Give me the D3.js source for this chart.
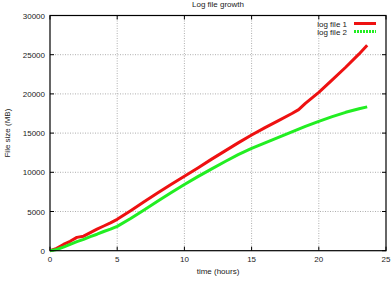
<!DOCTYPE html>
<meta charset="utf-8">
<style>
body { margin: 0; background: #fff; }
text { font-family: "Liberation Sans", Arial, sans-serif; font-size: 8px; fill: #222; }
.grid line { stroke: #999; stroke-dasharray: 1,1.5; stroke-width: 0.8; }
</style>
<svg width="391" height="290"></svg>
<script src="https://d3js.org/d3.v7.min.js"></script>
<script>
var hours = [0, 0.5, 1, 1.5, 2, 2.5, 3, 3.5, 4, 4.5, 5, 6, 7, 8, 9, 10, 11, 12, 13, 14, 15, 16, 17, 18, 18.5, 19, 20, 21, 22, 23, 23.6];
var logFile1 = [0, 300, 800, 1200, 1700, 1850, 2300, 2750, 3150, 3550, 4000, 5100, 6250, 7350, 8450, 9500, 10550, 11650, 12700, 13750, 14750, 15700, 16600, 17500, 18000, 18800, 20200, 21800, 23400, 25100, 26200];
var logFile2 = [0, 150, 450, 800, 1150, 1450, 1800, 2100, 2450, 2750, 3100, 4100, 5200, 6300, 7400, 8450, 9450, 10400, 11350, 12250, 13050, 13750, 14450, 15150, 15500, 15850, 16500, 17100, 17650, 18100, 18350];
var xTicks = [0, 5, 10, 15, 20, 25];
var yTicks = [0, 5000, 10000, 15000, 20000, 25000, 30000];
var seriesNames = ["log file 1", "log file 2"];
var seriesColors = ["#ee1111", "#22ee22"];

var svg = d3.select("svg"),
    mLeft = 50, mRight = 386, mTop = 15.5, mBottom = 250.7;

var x = d3.scaleLinear().domain([0, 25]).range([mLeft, mRight]);
var y = d3.scaleLinear().domain([0, 30000]).range([mBottom, mTop]);

var grid = svg.append("g").attr("class", "grid");
grid.selectAll("line.v").data(xTicks.slice(1, -1)).enter().append("line")
    .attr("x1", d => x(d)).attr("x2", d => x(d)).attr("y1", mTop).attr("y2", mBottom);
grid.selectAll("line.h").data(yTicks.slice(1, -1)).enter().append("line")
    .attr("y1", d => y(d)).attr("y2", d => y(d)).attr("x1", mLeft).attr("x2", mRight);

// ticks on all four sides, pointing inward
var tk = svg.append("g").attr("stroke", "#000").attr("stroke-width", 1);
xTicks.forEach(function(t) {
  tk.append("line").attr("x1", x(t)).attr("x2", x(t)).attr("y1", mBottom).attr("y2", mBottom - 4);
  tk.append("line").attr("x1", x(t)).attr("x2", x(t)).attr("y1", mTop).attr("y2", mTop + 4);
});
yTicks.forEach(function(t) {
  tk.append("line").attr("y1", y(t)).attr("y2", y(t)).attr("x1", mLeft).attr("x2", mLeft + 4);
  tk.append("line").attr("y1", y(t)).attr("y2", y(t)).attr("x1", mRight).attr("x2", mRight - 4);
});

svg.selectAll("text.xt").data(xTicks).enter().append("text")
    .attr("x", d => x(d)).attr("y", mBottom + 11).attr("text-anchor", "middle").text(d => d);
svg.selectAll("text.yt").data(yTicks).enter().append("text")
    .attr("x", mLeft - 5).attr("y", d => y(d) + 3).attr("text-anchor", "end").text(d => d);

var line = d3.line().x(d => x(d[0])).y(d => y(d[1]));
[logFile1, logFile2].forEach(function(vals, i) {
  svg.append("path")
      .datum(hours.map((h, j) => [h, vals[j]]))
      .attr("d", line)
      .attr("fill", "none")
      .attr("stroke", seriesColors[i])
      .attr("stroke-width", 3)
      .attr("stroke-linejoin", "round");
});

svg.append("rect").attr("x", mLeft).attr("y", mTop).attr("width", mRight - mLeft).attr("height", mBottom - mTop)
    .attr("fill", "none").attr("stroke", "#000").attr("stroke-width", 1.2);

// legend
seriesNames.forEach(function(name, i) {
  var ly = 23.5 + i * 8;
  svg.append("text").attr("x", 347).attr("y", ly + 3).attr("text-anchor", "end").text(name);
  svg.append("line").attr("x1", 354).attr("x2", 376).attr("y1", ly).attr("y2", ly)
      .attr("stroke", seriesColors[i]).attr("stroke-width", 3)
      .attr("stroke-dasharray", i ? "2,1" : null);
});

svg.append("text").attr("x", (mLeft + mRight) / 2).attr("y", 7).attr("text-anchor", "middle").text("Log file growth");
svg.append("text").attr("x", (mLeft + mRight) / 2).attr("y", 273.5).attr("text-anchor", "middle").text("time (hours)");
svg.append("text").attr("transform", "translate(10," + (mTop + mBottom) / 2 + ") rotate(-90)")
    .attr("text-anchor", "middle").text("File size (MB)");
</script>
